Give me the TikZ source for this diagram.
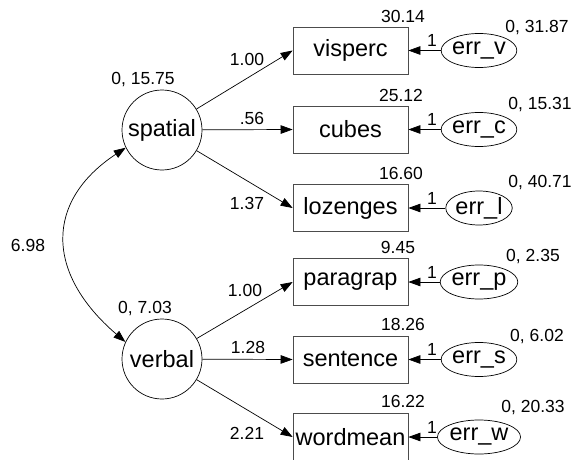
\documentclass[tikz,border=0pt]{standalone}
\usepackage{fontspec}
\setmainfont{Liberation Sans}
\usetikzlibrary{arrows.meta,shapes.geometric}
\begin{document}
\begin{tikzpicture}[x=1pt,y=-1pt,
  obs/.style={draw=black!70,line width=0.7pt,minimum width=115pt,minimum height=47pt,inner sep=0pt,font=\fontsize{23.5}{26}\selectfont},
  lat/.style={draw,circle,line width=0.7pt,minimum size=80pt,inner sep=0pt,font=\fontsize{23.5}{26}\selectfont},
  err/.style={draw,ellipse,line width=0.7pt,minimum width=66pt,minimum height=34pt,inner sep=0pt,font=\fontsize{23.5}{26}\selectfont},
  lab/.style={inner sep=0pt,font=\fontsize{17.5}{20}\selectfont},
  arr/.style={line width=0.7pt,-{Triangle[length=12pt,width=8.5pt]}},
  darr/.style={line width=0.7pt,{Triangle[length=12pt,width=8.5pt]}-{Triangle[length=12pt,width=8.5pt]}}]
\useasboundingbox (0,0) rectangle (576,460);
% latent
\node[lat] (spatial) at (162,130) {spatial};
\node[lat] (verbal) at (162,359) {verbal};
% observed
\node[obs] (visperc) at (350.5,50.5) {visperc};
\node[obs] (cubes) at (350.5,129.5) {cubes};
\node[obs] (lozenges) at (350.5,208) {lozenges};
\node[obs] (paragrap) at (350.5,282) {paragrap};
\node[obs] (sentence) at (350.5,359.5) {sentence};
\node[obs] (wordmean) at (350.5,437) {wordmean};
% errors
\node[err] (errv) at (479,50.5) {err\_v};
\node[err] (errc) at (479,129.5) {err\_c};
\node[err] (errl) at (479,208) {err\_l};
\node[err] (errp) at (479,282) {err\_p};
\node[err] (errs) at (479,359.5) {err\_s};
\node[err] (errw) at (479,437) {err\_w};
% paths
\draw[arr] (spatial) -- (visperc.west);
\draw[arr] (spatial) -- (cubes.west);
\draw[arr] (spatial) -- (lozenges.west);
\draw[arr] (verbal) -- (paragrap.west);
\draw[arr] (verbal) -- (sentence.west);
\draw[arr] (verbal) -- (wordmean.west);
\foreach \e/\o in {errv/visperc,errc/cubes,errl/lozenges,errp/paragrap,errs/sentence,errw/wordmean}
  \draw[arr] (\e.west) -- (\o.east);
% covariance
\coordinate (cs) at (spatial.206);
\coordinate (cv) at (verbal.155);
\draw[darr] (cs) .. controls (45,201) and (45,273) .. (cv);
% labels
\node[lab] (l698) at (28,245) {6.98};
\node[lab] (lsv) at (143,80) {0, 15.75};
\node[lab] (lvv) at (145,309) {0, 7.03};
\node[lab] (a1) at (247,59) {1.00};
\node[lab] (a2) at (252,118) {.56};
\node[lab] (a3) at (247,203) {1.37};
\node[lab] (a4) at (245,290) {1.00};
\node[lab] (a5) at (248,347) {1.28};
\node[lab] (a6) at (247,433) {2.21};
\node[lab] (i1) at (403,16) {30.14};
\node[lab] (i2) at (401,95) {25.12};
\node[lab] (i3) at (401,173) {16.60};
\node[lab] (i4) at (398,247) {9.45};
\node[lab] (i5) at (403,324) {18.26};
\node[lab] (i6) at (403,401) {16.22};
\node[lab] (e1) at (537,28) {0, 31.87};
\node[lab] (e2) at (540,105) {0, 15.31};
\node[lab] (e3) at (540,183) {0, 40.71};
\node[lab] (e4) at (533,257) {0, 2.35};
\node[lab] (e5) at (537,337) {0, 6.02};
\node[lab] (e6) at (533,408) {0, 20.33};
\foreach \y [count=\i] in {40,119,198,272,349,427}
  \node[lab] (one\i) at (432,\y) {1};
\end{tikzpicture}
\end{document}
